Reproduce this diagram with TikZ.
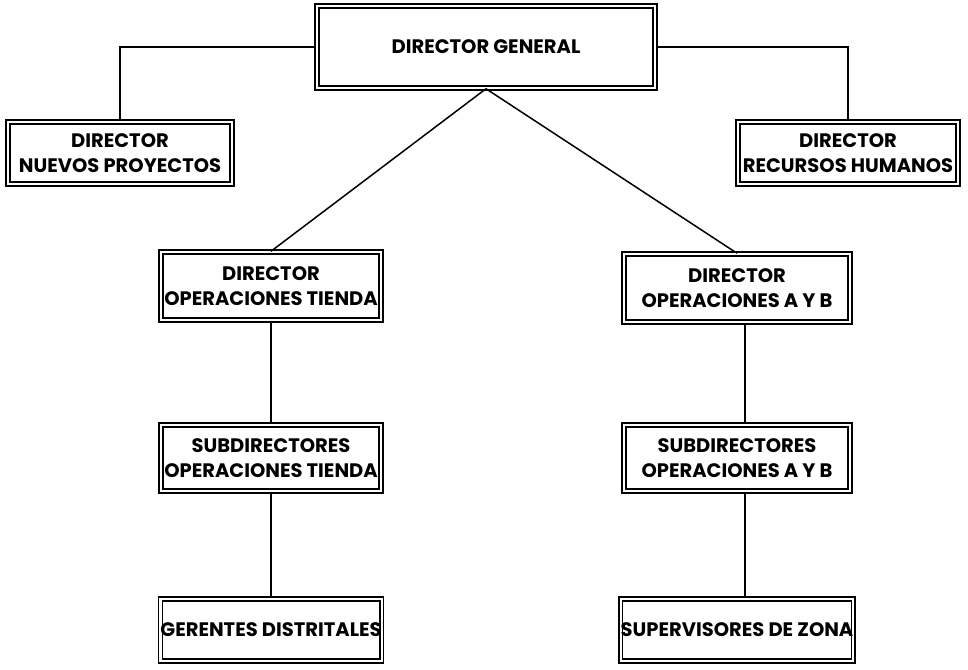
\documentclass[tikz,border=0pt]{standalone}
\usepackage{fontspec}
\setmainfont{Poppins}
\begin{document}
\begin{tikzpicture}[x=1pt,y=-1pt,
  box/.style={draw, line width=1.5pt, double, double distance=2.2pt, fill=white,
    inner sep=0pt, align=center, font=\bfseries\fontsize{19.5}{25}\selectfont},
  conn/.style={line width=1.5pt}]
\useasboundingbox (0,0) rectangle (968,669);
\node[box, minimum width=338, minimum height=82] (dg) at (486,47) {DIRECTOR GENERAL};
\node[box, minimum width=224, minimum height=62] (np) at (120,153) {DIRECTOR\\NUEVOS PROYECTOS};
\node[box, minimum width=220, minimum height=62] (rh) at (848,153) {DIRECTOR\\RECURSOS HUMANOS};
\node[box, minimum width=220, minimum height=68] (ot) at (271,286) {DIRECTOR\\OPERACIONES TIENDA};
\node[box, minimum width=226, minimum height=68] (ab) at (737,288) {DIRECTOR\\OPERACIONES A Y B};
\node[box, minimum width=220, minimum height=66] (sot) at (271,458) {SUBDIRECTORES\\OPERACIONES TIENDA};
\node[box, minimum width=226, minimum height=66] (sab) at (737,458) {SUBDIRECTORES\\OPERACIONES A Y B};
\node[box, minimum width=220, minimum height=62] (gd) at (271,630) {GERENTES DISTRITALES};
\node[box, minimum width=226, minimum height=62] (sz) at (737,630) {SUPERVISORES DE ZONA};
\coordinate (apex) at (dg.south);
\draw[conn] (dg.west) -| (np.north);
\draw[conn] (dg.east) -| (rh.north);
\draw[conn] (apex) -- (ot.north);
\draw[conn] (apex) -- (ab.north);
\draw[conn] ([xshift=8]ab.south) -- ([xshift=8]sab.north);
\draw[conn] ([xshift=8]sab.south) -- ([xshift=8]sz.north);
\draw[conn] (ot.south) -- (sot.north);
\draw[conn] (sot.south) -- (gd.north);
\end{tikzpicture}
\end{document}
